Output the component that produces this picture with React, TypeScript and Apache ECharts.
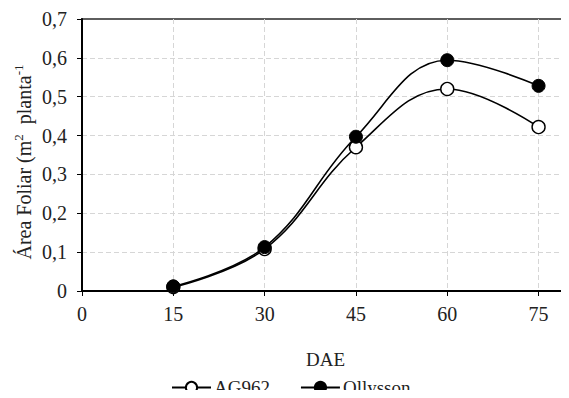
import React, { useEffect, useRef } from "react";
import * as echarts from "echarts";

const dae = [15, 30, 45, 60, 75];
const ag962 = [0.01, 0.108, 0.37, 0.52, 0.422];
const ollysson = [0.012, 0.113, 0.397, 0.594, 0.528];
const seriesNames = ["AG962", "Ollysson"];
const yLabelTicks = [0, 0.1, 0.2, 0.3, 0.4, 0.5, 0.6, 0.7];

const FONT = "'Liberation Serif', 'Times New Roman', Times, serif";

export default function App() {
  const ref = useRef<HTMLDivElement>(null);
  useEffect(() => {
    if (!ref.current) return;
    const chart = echarts.init(ref.current, undefined, { renderer: "svg" });
    const pts = (ys: number[]) => dae.map((x, i) => [x, ys[i]]);
    chart.setOption({
      animation: false,
      grid: {
        left: 82,
        top: 19,
        bottom: 107,
        right: -10,
        containLabel: false,
        show: true,
        borderColor: "#2a2a2a",
        borderWidth: 1.5,
        backgroundColor: "transparent",
      },
      xAxis: {
        type: "value",
        min: 0,
        max: 80,
        interval: 15,
        name: "DAE",
        nameLocation: "middle",
        nameGap: 59,
        nameTextStyle: { fontFamily: FONT, fontSize: 19, color: "#222" },
        axisLine: { show: true, lineStyle: { color: "#000", width: 2 } },
        axisTick: { show: true, inside: false, length: 5, lineStyle: { color: "#000", width: 1 } },
        axisLabel: {
          fontFamily: FONT,
          fontSize: 20,
          color: "#222",
          margin: 13,
          showMaxLabel: false,
        },
        splitLine: { show: true, showMinLine: false, lineStyle: { color: "#d6d6d6", type: [5, 3], width: 1 } },
      },
      yAxis: {
        type: "value",
        min: 0,
        max: 0.7,
        interval: 0.1,
        axisLine: { show: true, lineStyle: { color: "#000", width: 2 } },
        axisTick: { show: true, length: 5, lineStyle: { color: "#000", width: 1 } },
        axisLabel: {
          fontFamily: FONT,
          fontSize: 20,
          color: "#222",
          margin: 15,
          formatter: (v: number) => {
            const t = yLabelTicks.find((k) => Math.abs(k - v) < 1e-9);
            const val = t === undefined ? v : t;
            return val === 0 ? "0" : val.toFixed(1).replace(".", ",");
          },
        },
        splitLine: {
          show: true,
          showMinLine: false,
          showMaxLine: false,
          lineStyle: { color: "#d6d6d6", type: [5, 3], width: 1 },
        },
      },
      legend: {
        left: 166,
        top: 373,
        itemWidth: 39,
        itemHeight: 14,
        itemGap: 30,
        textStyle: { fontFamily: FONT, fontSize: 19, color: "#222", padding: [0, 0, 0, -2] },
        data: seriesNames,
      },
      graphic: [
        {
          type: "text",
          x: 23,
          y: 162,
          rotation: Math.PI / 2,
          style: {
            text: "{n|Área Foliar (m}{s|2}{n|  planta}{s|-1}",
            align: "center",
            verticalAlign: "middle",
            fill: "#222",
            rich: {
              n: { fontFamily: FONT, fontSize: 20, fill: "#222", lineHeight: 22, verticalAlign: "bottom" },
              s: { fontFamily: FONT, fontSize: 13, fill: "#222", lineHeight: 22, verticalAlign: "top" },
            },
          },
        },
      ],
      series: [
        {
          name: seriesNames[0],
          type: "line",
          smooth: 0.4,
          data: pts(ag962),
          symbol: "circle",
          symbolSize: 13,
          lineStyle: { color: "#000", width: 1.6 },
          itemStyle: { color: "#fff", borderColor: "#000", borderWidth: 1.4 },
          z: 3,
        },
        {
          name: seriesNames[1],
          type: "line",
          smooth: 0.4,
          data: pts(ollysson),
          symbol: "circle",
          symbolSize: 13,
          lineStyle: { color: "#000", width: 1.6 },
          itemStyle: { color: "#000", borderColor: "#000", borderWidth: 1 },
          z: 4,
        },
      ],
    });
    return () => chart.dispose();
  }, []);
  return <div ref={ref} style={{ width: 569, height: 398, margin: -8 }} />;
}
